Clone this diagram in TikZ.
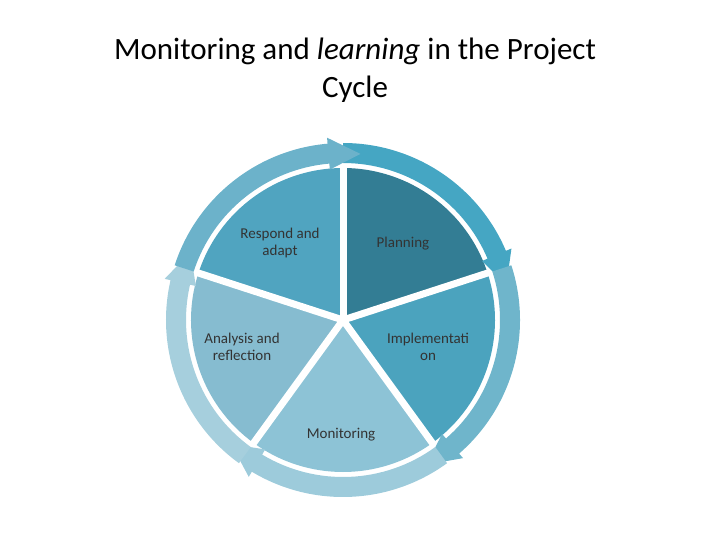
\documentclass[tikz,border=0pt]{standalone}
\usepackage{fontspec}
\setmainfont{Carlito}
\usetikzlibrary{calc}
\begin{document}
\begin{tikzpicture}[x=1pt,y=-1pt,
  lbl/.style={font=\fontsize{15}{17}\selectfont,align=center,text=black!80}]
\useasboundingbox (0,0) rectangle (720,540);
\coordinate (c) at (343,320);
\def\wr{152}\def\ri{157}\def\ro{177}
\foreach \k/\wc/\ac in {0/337D94/45A6C3,1/4BA3BE/6FB5CB,2/8DC3D6/9DCBDB,3/86BCD0/A6CFDD,4/50A4C0/6CB2CA}{
  \pgfmathsetmacro{\s}{-90+72*\k}
  \pgfmathsetmacro{\e}{\s+72}
  \definecolor{wcol}{HTML}{\wc}\definecolor{acol}{HTML}{\ac}
  \fill[wcol] (c) -- ++(\s:\wr) arc[start angle=\s,end angle=\e,radius=\wr] -- cycle;
  \pgfmathsetmacro{\hs}{\e-5}
  \pgfmathsetmacro{\ht}{\e+6}
  \fill[acol] ($(c)+(\s:\ri)$) arc[start angle=\s,end angle=\hs,radius=\ri]
     -- ($(c)+(\hs:\ri-6)$) -- ($(c)+(\ht:{(\ri+\ro)/2})$) -- ($(c)+(\hs:\ro+6)$)
     -- ($(c)+(\hs:\ro)$) arc[start angle=\hs,end angle=\s,radius=\ro] -- cycle;
}
\foreach \k in {0,...,4}{
  \pgfmathsetmacro{\s}{-90+72*\k}
  \draw[white,line width=7pt] (c) -- ++(\s:\wr+2);
}
\node[font=\fontsize{31}{38}\selectfont,align=center] (title) at (355,70) {Monitoring and \textit{learning} in the Project\\Cycle};
\node[lbl] (r) at (280,243) {Respond and\\adapt};
\node[lbl] (p) at (403,244) {Planning};
\node[lbl] (a) at (242,347) {Analysis and\\reflection};
\node[lbl] (i) at (428,347) {Implementati\\on};
\node[lbl] (m) at (341,435) {Monitoring};
\end{tikzpicture}
\end{document}
